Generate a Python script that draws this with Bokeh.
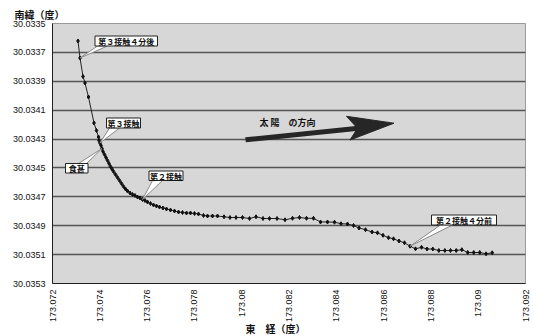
from bokeh.plotting import figure
from bokeh.models import Range1d, FixedTicker, PrintfTickFormatter, CustomJSTickFormatter, Title
from bokeh.core.properties import value
from bokeh.embed import file_html
from bokeh.resources import INLINE

# ---- data (longitude E, latitude S) ----
lon = [173.073078, 173.073163, 173.073290, 173.073374, 173.073522, 173.073755, 173.073860, 173.073945,
       173.073966, 173.074008, 173.074051, 173.074093, 173.074135, 173.074199, 173.074262, 173.074326,
       173.074389, 173.074452, 173.074516, 173.074579, 173.074664, 173.074748, 173.074833, 173.074918,
       173.075002, 173.075087, 173.075171, 173.075277, 173.075383, 173.075488, 173.075594, 173.075700,
       173.075805, 173.075911, 173.076017, 173.076144, 173.076271, 173.076397, 173.076524, 173.076672,
       173.076820, 173.076989, 173.077159, 173.077328, 173.077497, 173.077666, 173.077835, 173.078004,
       173.078173, 173.078385, 173.078554, 173.078765, 173.078977, 173.079252, 173.079505, 173.079759,
       173.080034, 173.080330, 173.080605, 173.080901, 173.081175, 173.081493, 173.081831, 173.082148,
       173.082444, 173.082740, 173.083036, 173.083332, 173.083628, 173.083924, 173.084199, 173.084474,
       173.084728, 173.084960, 173.085235, 173.085510, 173.085742, 173.085975, 173.086207, 173.086419,
       173.086652, 173.086884, 173.087117, 173.087350, 173.087604, 173.087836, 173.088082, 173.088335,
       173.088589, 173.088830, 173.089071, 173.089308, 173.089557, 173.089811, 173.090065, 173.090331,
       173.090593]
lat = [30.0336212, 30.0337388, 30.0338669, 30.0339119, 30.0340088, 30.0341888, 30.0342408, 30.0342858,
       30.0343100, 30.0343273, 30.0343446, 30.0343654, 30.0343862, 30.0344069, 30.0344277, 30.0344485,
       30.0344692, 30.0344900, 30.0345073, 30.0345246, 30.0345454, 30.0345662, 30.0345869, 30.0346077,
       30.0346285, 30.0346458, 30.0346596, 30.0346735, 30.0346838, 30.0346908, 30.0347012, 30.0347081,
       30.0347185, 30.0347254, 30.0347358, 30.0347462, 30.0347565, 30.0347635, 30.0347704, 30.0347773,
       30.0347842, 30.0347912, 30.0347981, 30.0348050, 30.0348085, 30.0348119, 30.0348119, 30.0348154,
       30.0348188, 30.0348292, 30.0348327, 30.0348327, 30.0348327, 30.0348382, 30.0348431, 30.0348431,
       30.0348431, 30.0348500, 30.0348382, 30.0348500, 30.0348500, 30.0348500, 30.0348590, 30.0348486,
       30.0348431, 30.0348486, 30.0348486, 30.0348742, 30.0348742, 30.0348756, 30.0348860, 30.0348881,
       30.0348985, 30.0349158, 30.0349275, 30.0349435, 30.0349490, 30.0349663, 30.0349829, 30.0349905,
       30.0350058, 30.0350182, 30.0350418, 30.0350598, 30.0350494, 30.0350612, 30.0350612, 30.0350715,
       30.0350715, 30.0350715, 30.0350715, 30.0350660, 30.0350854, 30.0350854, 30.0350854, 30.0350944,
       30.0350875]

x_ticks = [173.072, 173.074, 173.076, 173.078, 173.080, 173.082, 173.084, 173.086, 173.088, 173.090, 173.092]
y_ticks = [30.0335, 30.0337, 30.0339, 30.0341, 30.0343, 30.0345, 30.0347, 30.0349, 30.0351, 30.0353]

callout_texts = ["第３接触４分後", "第３接触", "食甚", "第２接触", "第２接触４分前"]
callout_points = [1, 9, 11, 32, 82]   # index of the data point each callout refers to

y_title = "南緯（度）"
x_title = "東　経（度）"
sun_text = "太 陽　の方向"

# ---- layout helpers (canvas pixel -> data) ----
XR = (173.072, 173.092)
YR = (30.0335, 30.0353)
FX0, FX1 = 52.0, 525.0
FY0, FY1 = 23.0, 283.0


def px2lon(px):
    return XR[0] + (px - FX0) / (FX1 - FX0) * (XR[1] - XR[0])


def py2lat(py):
    return YR[0] + (py - FY0) / (FY1 - FY0) * (YR[1] - YR[0])


p = figure(width=534, height=336, output_backend="svg", toolbar_location=None,
           x_range=Range1d(XR[0], XR[1]), y_range=Range1d(YR[1], YR[0]),
           frame_width=473, frame_height=260,
           min_border_left=52, min_border_right=9, min_border_top=23, min_border_bottom=53)

p.background_fill_color = "#d7d7d7"
p.border_fill_color = "white"
p.outline_line_color = "#9a9a9a"
p.outline_line_width = 1

p.xgrid.grid_line_color = None
p.ygrid.grid_line_color = "#555555"
p.ygrid.grid_line_width = 1.5

p.xaxis.ticker = FixedTicker(ticks=x_ticks)
p.yaxis.ticker = FixedTicker(ticks=y_ticks)
p.yaxis.formatter = PrintfTickFormatter(format="%.4f")
p.xaxis.formatter = CustomJSTickFormatter(code="return tick.toFixed(3).replace(/\\.?0+$/, '');")
p.xaxis.major_label_orientation = 3.14159265 / 2

for ax in (p.xaxis, p.yaxis):
    ax.axis_line_color = "#222222"
    ax.axis_line_width = 1
    ax.major_tick_out = 0
    ax.major_tick_in = 0
    ax.minor_tick_out = 0
    ax.minor_tick_in = 0
    ax.axis_label_standoff = 0
    ax.major_label_text_font = "Liberation Sans"
    ax.major_label_text_font_size = "9px"
    ax.major_label_text_color = "#111111"
p.xaxis.major_label_standoff = 6
p.yaxis.major_label_standoff = 7

# data
p.line(lon, lat, line_color="#222222", line_width=1)
p.scatter(lon, lat, marker="diamond", size=4, fill_color="#111111", line_color="#111111")

# callouts
boxes = [(94.5, 35.5, 157.0, 45.5), (106.0, 117.5, 140.0, 127.5), (65.0, 163.0, 87.5, 172.5),
         (148.5, 170.5, 182.5, 180.0), (431.0, 214.5, 496.0, 224.5)]
bases = [((97, 45.5), (107, 45.5)), ((109, 127.5), (119, 127.5)), ((78, 163), (86, 163)),
         ((152, 180), (162, 180)), ((440, 224.5), (452, 224.5))]

for txt, (bx0, by0, bx1, by1), idx, (b1, b2) in zip(callout_texts, boxes, callout_points, bases):
    p.patch([px2lon(b1[0]), lon[idx], px2lon(b2[0])],
            [py2lat(b1[1]), lat[idx], py2lat(b2[1])],
            fill_color="white", line_color="#8a8a8a", line_width=1)
    p.quad(left=px2lon(bx0), right=px2lon(bx1), top=py2lat(by0), bottom=py2lat(by1),
           fill_color="white", line_color="#222222", line_width=1)
    p.text(x=[px2lon((bx0 + bx1) / 2)], y=[py2lat((by0 + by1) / 2 + 0.5)], text=[txt],
           text_font=value("Noto Sans CJK JP"), text_font_style="bold", text_font_size="8px",
           text_align="center", text_baseline="middle", text_color="#111111")

# sun direction arrow
p.line([px2lon(245), px2lon(358)], [py2lat(139.3), py2lat(127.8)], line_color="#262626", line_width=5)
p.patch([px2lon(393.5), px2lon(346), px2lon(357), px2lon(349.5)],
        [py2lat(122.7), py2lat(115.8), py2lat(127.8), py2lat(139.5)],
        fill_color="#262626", line_color="#262626", line_width=1)
p.text(x=[px2lon(259)], y=[py2lat(121.5)], text=[sun_text],
       text_font=value("Noto Sans CJK JP"), text_font_style="bold", text_font_size="9px",
       text_align="left", text_baseline="middle", text_color="#111111")

# axis titles (as panel titles so they are drawn outside the frame)
t_top = Title(text=y_title, align="left", offset=-38, standoff=4,
              text_font="Noto Sans CJK JP", text_font_style="bold", text_font_size="10px",
              text_color="#111111")
p.add_layout(t_top, "above")
t_bot = Title(text=x_title, align="left", offset=193, standoff=-13,
              text_font="Noto Sans CJK JP", text_font_style="bold", text_font_size="10px",
              text_color="#111111")
p.add_layout(t_bot, "below")

open("out.html", "w").write(file_html(p, INLINE))
